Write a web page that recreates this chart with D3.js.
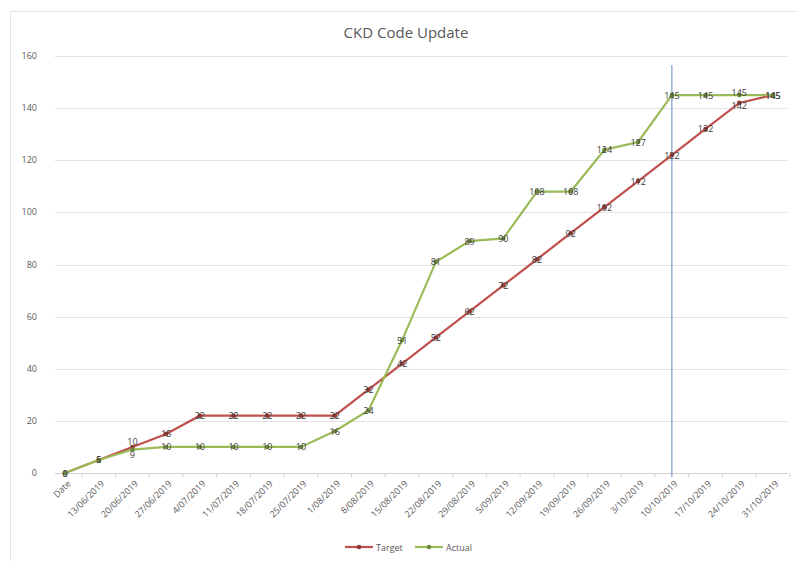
<!DOCTYPE html>
<html>
<head>
<meta charset="utf-8">
<script src="https://cdn.jsdelivr.net/npm/d3@7"></script>
<style>
  body { margin: 0; background: #fff; }
  text { font-family: "Open Sans", "Liberation Sans", sans-serif; }
</style>
</head>
<body>
<div id="wrapper"></div>
<script>
var dates = ["Date", "13/06/2019", "20/06/2019", "27/06/2019", "4/07/2019", "11/07/2019",
             "18/07/2019", "25/07/2019", "1/08/2019", "8/08/2019", "15/08/2019", "22/08/2019",
             "29/08/2019", "5/09/2019", "12/09/2019", "19/09/2019", "26/09/2019", "3/10/2019",
             "10/10/2019", "17/10/2019", "24/10/2019", "31/10/2019"];
var target = [0, 5, 10, 15, 22, 22, 22, 22, 22, 32, 42, 52, 62, 72, 82, 92, 102, 112, 122, 132, 142, 145];
var actual = [0, 5, 9, 10, 10, 10, 10, 10, 16, 24, 51, 81, 89, 90, 108, 108, 124, 127, 145, 145, 145, 145];
var yTicks = [0, 20, 40, 60, 80, 100, 120, 140, 160];
var markerDate = "10/10/2019";

var svg = d3.select('#wrapper')
            .append('svg')
            .attr('width', 797)
            .attr('height', 561);

// chart frame
svg.append('rect')
   .attr('x', 10.5).attr('y', 11.5)
   .attr('width', 800).attr('height', 560)
   .style('fill', 'none')
   .style('stroke', '#e3e3e3');

var x = d3.scalePoint().domain(dates).range([65, 773]);
var y = d3.scaleLinear().domain([0, 160]).range([473, 56]);

svg.append('text')
   .attr('x', 406).attr('y', 38)
   .attr('text-anchor', 'middle')
   .style('font-size', '15px')
   .style('fill', '#595959')
   .text('CKD Code Update');

// gridlines
svg.append('g').selectAll('line')
   .data(yTicks)
   .enter().append('line')
   .attr('x1', 55).attr('x2', 787)
   .attr('y1', function(d) { return Math.round(y(d)) + 0.5; })
   .attr('y2', function(d) { return Math.round(y(d)) + 0.5; })
   .style('stroke', function(d) { return d === 0 ? '#d0d0d0' : '#e2e2e2'; });

svg.append('g').selectAll('text')
   .data(yTicks)
   .enter().append('text')
   .attr('x', 37)
   .attr('y', function(d) { return y(d) + 3; })
   .attr('text-anchor', 'end')
   .style('font-size', '9px')
   .style('fill', '#595959')
   .text(function(d) { return d; });

// small ticks on category axis
svg.append('g').selectAll('line')
   .data(dates)
   .enter().append('line')
   .attr('x1', function(d) { return x(d) + x.step() / 2; })
   .attr('x2', function(d) { return x(d) + x.step() / 2; })
   .attr('y1', 473).attr('y2', 477)
   .style('stroke', '#d0d0d0');

svg.append('g').selectAll('text')
   .data(dates)
   .enter().append('text')
   .attr('transform', function(d) { return 'translate(' + (x(d) + 4) + ',482) rotate(-45)'; })
   .attr('text-anchor', 'end')
   .attr('dy', '0.35em')
   .style('font-size', '9px')
   .style('fill', '#595959')
   .text(function(d) { return d; });

// vertical marker line
svg.append('line')
   .attr('x1', x(markerDate)).attr('x2', x(markerDate))
   .attr('y1', 65).attr('y2', 477)
   .style('stroke', '#7f9ccc')
   .style('stroke-width', 1.2);

var series = [
  {name: 'Target', values: target, color: '#c0504d', dark: '#8c3836'},
  {name: 'Actual', values: actual, color: '#9bbb59', dark: '#6f8a3c'}
];

// nudge labels apart where the two series nearly coincide
function labelShift(s, i) {
  var d = y(target[i]) - y(actual[i]);
  var gap = Math.abs(d);
  if (gap === 0 || gap >= 13) return 0;
  var push = (13 - gap) / 2;
  var mine = s.name === 'Target' ? d : -d;
  return mine > 0 ? push : -push;
}

var line = d3.line()
             .x(function(d, i) { return x(dates[i]); })
             .y(function(d) { return y(d); });

series.forEach(function(s) {
  svg.append('path')
     .datum(s.values)
     .attr('d', line)
     .style('fill', 'none')
     .style('stroke', s.color)
     .style('stroke-width', 2.2);
});

series.forEach(function(s) {
  svg.append('g').selectAll('circle')
     .data(s.values)
     .enter().append('circle')
     .attr('cx', function(d, i) { return x(dates[i]); })
     .attr('cy', function(d) { return y(d); })
     .attr('r', 2.3)
     .style('fill', s.dark);

  svg.append('g').selectAll('text')
     .data(s.values)
     .enter().append('text')
     .attr('x', function(d, i) { return x(dates[i]); })
     .attr('y', function(d, i) { return y(d) + 3.5 + labelShift(s, i); })
     .attr('text-anchor', 'middle')
     .style('font-size', '9px')
     .style('fill', '#404040')
     .text(function(d) { return d; });
});

// legend
var legend = svg.append('g').attr('transform', 'translate(345,547)');
var items = legend.selectAll('g')
   .data(series)
   .enter().append('g')
   .attr('transform', function(d, i) { return 'translate(' + (i * 70) + ',0)'; });
items.append('line')
   .attr('x1', 0).attr('x2', 28)
   .style('stroke', function(d) { return d.color; })
   .style('stroke-width', 2.2);
items.append('circle')
   .attr('cx', 14).attr('r', 2.3)
   .style('fill', function(d) { return d.dark; });
items.append('text')
   .attr('x', 31).attr('y', 3.5)
   .style('font-size', '9px')
   .style('fill', '#595959')
   .text(function(d) { return d.name; });
</script>
</body>
</html>
